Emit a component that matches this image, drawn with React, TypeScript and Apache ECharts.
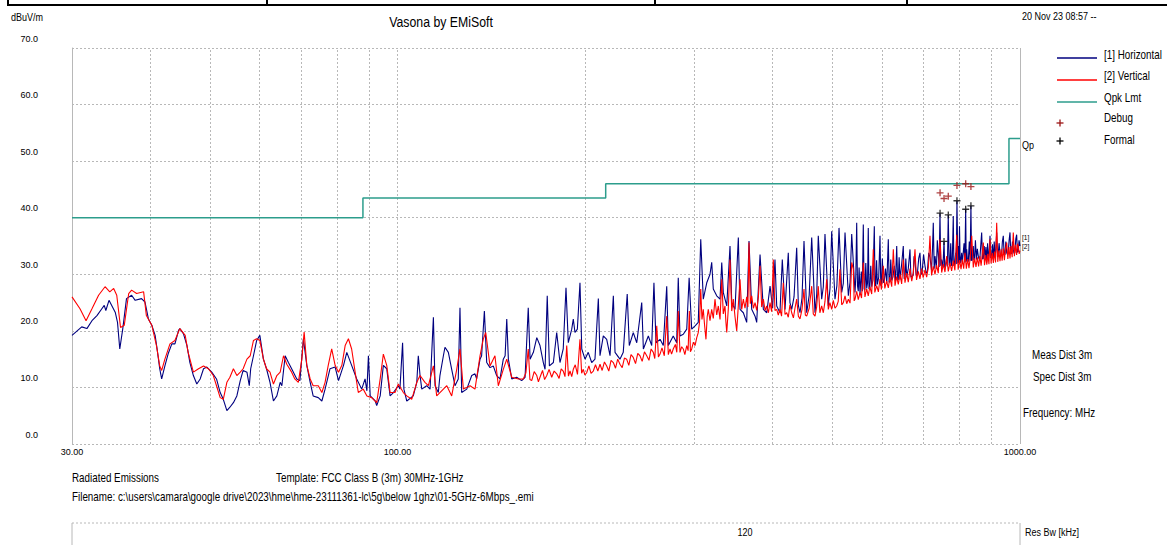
import React, { useEffect, useRef } from "react";
import * as echarts from "echarts";

// [frequency MHz, level dBuV/m]
const horizontal: [number, number][] = [
  [30.0, 19.2], [31.1, 20.7], [31.7, 20.4], [32.3, 21.8], [32.9, 22.7], [33.5, 23.9], [33.8, 24.5], [34.0, 23.6],
  [34.4, 25.4], [35.2, 23.3], [35.5, 21.5], [35.8, 16.8], [36.2, 20.4], [36.7, 25.7], [37.4, 26.3], [37.9, 25.4],
  [38.8, 25.7], [39.3, 25.1], [39.8, 22.1], [40.3, 21.0], [40.8, 19.2], [41.1, 16.8], [41.5, 13.3], [41.8, 11.5],
  [42.3, 13.8], [42.8, 15.9], [43.4, 17.7], [43.9, 17.7], [44.5, 20.1], [44.7, 20.4], [45.3, 19.5], [45.9, 17.4],
  [46.4, 14.4], [47.0, 12.1], [47.6, 10.6], [48.2, 11.5], [48.8, 13.3], [49.4, 13.6], [50.3, 12.7], [51.2, 11.5],
  [51.9, 9.1], [52.5, 7.9], [53.2, 5.9], [53.8, 6.5], [54.5, 7.3], [55.2, 8.5], [55.9, 11.2], [56.5, 13.0],
  [57.3, 12.7], [57.8, 10.3], [58.1, 13.3], [58.7, 15.6], [59.4, 18.3], [60.1, 19.2], [60.9, 15.0], [61.6, 13.3],
  [62.4, 10.9], [63.2, 7.6], [64.0, 8.5], [64.8, 10.9], [65.2, 10.3], [66.0, 15.6], [66.8, 14.4], [67.6, 13.3],
  [68.9, 11.5], [69.7, 11.2], [70.6, 18.6], [71.5, 13.9], [72.4, 10.9], [73.2, 8.5], [74.6, 8.2], [75.6, 7.6],
  [76.5, 9.7], [77.9, 13.3], [79.4, 13.6], [80.4, 11.2], [81.9, 13.9], [82.9, 16.2], [84.4, 13.9], [86.0, 11.5],
  [87.6, 9.7], [88.7, 11.5], [89.3, 9.4], [89.8, 15.6], [90.4, 8.5], [92.1, 7.6], [92.6, 6.8], [93.8, 8.5],
  [94.9, 13.9], [96.1, 13.3], [97.3, 8.5], [98.5, 9.1], [100.3, 10.3], [100.9, 9.7], [101.9, 17.9], [102.4, 9.7],
  [103.5, 7.6], [106.0, 8.5], [107.4, 10.9], [108.0, 15.6], [108.7, 12.1], [109.4, 9.7], [111.4, 10.3], [112.8, 9.7],
  [114.2, 22.4], [114.9, 10.3], [116.3, 9.1], [117.0, 12.1], [118.5, 15.6], [119.2, 17.1], [120.7, 16.2], [122.2, 13.2],
  [123.7, 10.3], [125.2, 11.5], [126.0, 24.1], [126.8, 9.1], [129.2, 9.7], [131.6, 12.1], [133.2, 12.4], [134.0, 11.5],
  [135.7, 15.0], [136.5, 15.6], [137.9, 23.5], [139.1, 14.4], [140.8, 13.5], [142.5, 13.8], [144.3, 12.1], [146.1, 11.5],
  [147.9, 15.0], [148.9, 15.6], [149.8, 22.1], [150.7, 15.0], [152.6, 11.5], [155.4, 11.8], [158.3, 11.2], [160.3, 11.8],
  [162.2, 24.1], [163.3, 15.0], [165.3, 16.2], [167.4, 18.8], [169.4, 17.4], [171.5, 14.4], [172.6, 13.2], [174.0, 26.2],
  [175.4, 13.8], [178.0, 14.4], [180.2, 19.7], [182.4, 14.4], [184.6, 16.8], [186.5, 27.6], [188.1, 17.9], [190.5, 20.3],
  [191.6, 22.1], [192.8, 19.7], [194.5, 20.3], [196.4, 28.5], [197.7, 16.8], [200.1, 15.0], [202.5, 16.2], [205.1, 14.4],
  [207.6, 15.0], [210.2, 25.7], [211.5, 15.6], [214.1, 19.1], [216.8, 18.5], [219.5, 15.6], [222.2, 26.2], [223.6, 16.2],
  [227.7, 15.0], [230.5, 16.2], [233.9, 26.5], [235.7, 17.4], [239.2, 19.7], [242.3, 17.9], [246.8, 25.0], [248.3, 16.8],
  [252.9, 19.1], [256.1, 17.4], [258.2, 28.5], [260.2, 17.9], [264.1, 18.5], [267.3, 17.4], [270.7, 27.9], [272.3, 17.4],
  [277.3, 19.1], [280.9, 17.9], [282.5, 29.4], [284.3, 19.1], [287.8, 19.4], [291.5, 20.3], [294.1, 29.4], [296.9, 20.3],
  [300.6, 20.9], [304.2, 21.5], [307.0, 36.2], [309.9, 25.6], [313.9, 28.5], [317.7, 30.0], [319.7, 32.1], [321.6, 27.4],
  [325.7, 26.2], [329.7, 25.6], [331.8, 32.1], [333.7, 26.8], [338.0, 24.4], [342.1, 35.0], [344.3, 25.0], [348.5, 23.8],
  [352.8, 36.5], [355.0, 23.8], [359.4, 23.2], [363.9, 21.5], [367.0, 35.9], [370.7, 23.8], [375.3, 22.6], [377.6, 21.5],
  [382.3, 33.5], [387.0, 23.8], [391.9, 23.2], [396.7, 27.9], [400.5, 24.0], [404.0, 32.6], [406.6, 24.4], [411.5, 23.2],
  [415.1, 32.6], [419.3, 23.8], [424.4, 33.8], [427.0, 25.0], [429.8, 23.8], [433.5, 26.0], [437.8, 34.7], [440.5, 24.5],
  [443.2, 23.2], [446.5, 25.8], [449.8, 35.9], [454.3, 23.2], [458.5, 26.3], [462.8, 36.5], [468.5, 23.2], [471.5, 26.5],
  [474.2, 36.8], [480.2, 25.6], [483.1, 27.8], [486.1, 37.1], [492.1, 24.4], [495.2, 27.5], [498.3, 37.6], [504.4, 25.6],
  [508.0, 28.0], [512.0, 38.2], [517.1, 26.8], [520.2, 28.4], [523.5, 37.4], [530.0, 26.2], [533.3, 28.6], [536.6, 37.1],
  [543.2, 26.8], [544.8, 29.5], [546.6, 39.1], [548.2, 28.0], [549.8, 27.0], [551.5, 31.2], [553.4, 26.5], [556.0, 30.5],
  [558.0, 27.0], [560.1, 38.8], [561.8, 27.4], [563.5, 27.2], [565.3, 32.0], [567.2, 27.5], [569.0, 28.5], [570.5, 38.2],
  [572.0, 27.4], [573.8, 27.6], [575.8, 31.5], [577.8, 27.8], [580.5, 29.0], [583.4, 38.5], [585.0, 27.9], [586.5, 28.0],
  [588.3, 32.5], [590.0, 28.2], [593.0, 29.5], [595.8, 36.8], [597.5, 28.0], [599.0, 28.3], [601.0, 32.8], [603.1, 28.5],
  [605.5, 29.0], [608.0, 31.0], [611.0, 28.4], [614.4, 36.2], [616.2, 28.6], [618.0, 28.7], [620.0, 32.6], [622.2, 28.9],
  [625.0, 29.5], [628.0, 31.5], [631.0, 28.8], [633.8, 35.0], [635.8, 29.0], [637.5, 29.0], [639.5, 33.0], [641.6, 29.1],
  [645.5, 31.8], [649.4, 35.0], [651.5, 29.2], [653.5, 29.3], [655.5, 32.8], [657.6, 29.5], [661.5, 31.0], [665.7, 34.4],
  [668.0, 29.5], [670.0, 29.6], [673.5, 29.8], [675.8, 33.2], [678.1, 32.5], [681.0, 29.8], [684.0, 30.0], [687.5, 32.8],
  [690.7, 33.8], [693.5, 30.0], [696.0, 30.2], [700.0, 33.5], [703.6, 31.5], [707.0, 30.2], [710.0, 30.5], [713.5, 33.8],
  [716.8, 33.0], [721.0, 30.7], [723.5, 34.5], [725.6, 39.1], [728.0, 31.0], [730.2, 33.2], [734.0, 31.0], [736.5, 36.0],
  [739.1, 33.5], [741.5, 31.3], [743.8, 40.8], [746.0, 31.5], [748.5, 32.6], [752.0, 31.2], [755.0, 35.8], [757.0, 31.2],
  [759.0, 31.3], [762.5, 33.0], [764.5, 31.4], [766.9, 40.5], [769.5, 31.6], [771.8, 32.0], [774.0, 35.5], [776.0, 31.5],
  [778.5, 32.5], [781.3, 40.3], [783.0, 31.5], [785.0, 31.6], [788.3, 33.8], [790.0, 31.8], [792.0, 43.0], [794.5, 31.9],
  [796.5, 35.0], [798.0, 32.0], [799.5, 38.5], [801.5, 32.0], [803.0, 32.2], [806.0, 33.8], [808.0, 32.0], [810.0, 32.0],
  [813.0, 35.5], [815.5, 32.1], [818.0, 41.5], [819.5, 32.2], [821.0, 34.4], [823.5, 32.2], [826.0, 32.3], [829.0, 35.8],
  [831.5, 32.4], [834.0, 42.1], [836.0, 32.4], [838.0, 32.5], [841.3, 35.0], [843.0, 32.5], [845.0, 32.6], [848.0, 36.0],
  [851.0, 32.6], [854.0, 34.5], [857.1, 33.2], [859.5, 32.7], [862.0, 32.7], [865.0, 35.2], [867.8, 37.4], [870.5, 32.7],
  [873.1, 32.8], [876.0, 35.0], [879.0, 32.8], [881.5, 34.8], [884.0, 32.1], [887.0, 35.5], [890.0, 32.9], [892.5, 34.0],
  [895.0, 36.8], [897.5, 32.9], [900.0, 33.0], [903.0, 35.3], [906.1, 32.6], [909.0, 35.8], [912.0, 33.0], [914.5, 34.5],
  [917.4, 37.4], [920.0, 33.1], [922.0, 33.2], [925.5, 35.5], [928.7, 33.8], [931.0, 33.2], [934.0, 33.4], [937.0, 35.8],
  [940.1, 36.8], [943.0, 33.4], [946.0, 33.5], [949.0, 35.8], [952.0, 33.8], [954.5, 33.5], [957.0, 33.6], [960.5, 36.0],
  [963.7, 37.4], [966.5, 33.6], [969.0, 33.7], [972.5, 35.8], [975.5, 34.4], [978.0, 33.7], [981.0, 33.8], [984.5, 36.2],
  [987.7, 37.0], [990.5, 33.9], [993.7, 34.0], [996.5, 36.0], [1000.0, 35.0],
];

const vertical: [number, number][] = [
  [30.0, 26.0], [30.9, 23.9], [31.6, 21.8], [32.3, 23.9], [33.1, 26.3], [33.9, 27.8], [34.5, 26.9], [35.0, 27.5],
  [35.4, 26.3], [35.9, 20.6], [36.4, 21.0], [37.0, 26.6], [37.4, 27.2], [38.1, 26.6], [39.1, 26.9], [39.5, 22.7],
  [40.3, 21.0], [41.0, 17.4], [41.5, 13.8], [41.8, 13.0], [42.3, 15.0], [43.1, 17.7], [43.9, 18.3], [44.7, 20.4],
  [45.6, 19.2], [46.1, 16.2], [47.0, 12.7], [47.9, 13.3], [48.8, 13.8], [49.7, 13.3], [50.6, 12.1], [51.2, 10.3],
  [51.9, 8.2], [52.5, 7.9], [53.2, 10.9], [53.8, 11.8], [54.5, 13.3], [55.2, 12.1], [55.9, 12.7], [56.5, 13.3],
  [57.3, 15.0], [58.0, 15.6], [58.7, 18.3], [59.4, 18.6], [60.1, 18.3], [60.9, 15.0], [61.6, 13.3], [62.4, 12.7],
  [63.2, 10.6], [64.0, 12.1], [64.8, 12.7], [65.6, 15.6], [66.4, 14.1], [67.6, 12.7], [68.4, 11.5], [69.3, 10.9],
  [70.2, 15.0], [70.8, 19.8], [71.5, 13.9], [72.4, 11.5], [73.2, 10.3], [74.6, 10.3], [75.6, 9.1], [76.5, 10.9],
  [77.4, 13.9], [78.4, 16.8], [79.4, 13.9], [80.4, 12.7], [81.4, 13.9], [82.4, 17.4], [83.4, 18.6], [84.4, 16.8],
  [85.5, 12.7], [86.5, 9.1], [88.1, 9.7], [89.3, 8.5], [90.9, 8.2], [92.6, 7.3], [93.8, 11.5], [94.9, 15.9],
  [96.1, 13.9], [97.3, 9.1], [99.1, 9.1], [100.3, 10.6], [102.2, 9.1], [103.5, 8.5], [105.4, 7.9], [107.4, 10.9],
  [108.7, 12.1], [110.7, 10.9], [112.1, 10.3], [114.2, 13.8], [115.6, 8.5], [118.5, 9.7], [120.0, 10.3], [122.2, 8.5],
  [124.5, 13.2], [126.0, 16.8], [127.6, 9.7], [130.8, 10.3], [133.2, 9.7], [135.7, 15.6], [137.3, 18.5], [138.6, 19.7],
  [140.8, 13.8], [143.4, 15.6], [145.2, 10.3], [147.9, 13.2], [149.8, 15.0], [152.6, 11.8], [156.4, 11.5], [159.3, 11.5],
  [160.8, 12.6], [162.2, 16.8], [163.2, 11.4], [164.3, 11.2], [165.8, 12.8], [167.4, 12.1], [168.4, 11.0], [169.4, 11.8],
  [171.0, 13.0], [172.3, 11.4], [173.7, 12.1], [175.2, 13.2], [176.9, 11.8], [178.5, 12.9], [180.2, 12.4], [181.8, 11.6],
  [183.2, 13.3], [184.6, 12.9], [185.8, 11.9], [187.0, 17.4], [188.2, 12.0], [189.3, 12.9], [190.5, 11.9], [191.6, 13.2],
  [193.0, 14.0], [194.6, 12.3], [196.4, 18.5], [197.6, 12.5], [198.8, 13.2], [200.0, 12.2], [201.3, 12.6], [203.0, 13.8],
  [204.6, 12.5], [206.3, 12.9], [208.0, 14.0], [209.8, 12.9], [211.5, 14.1], [213.2, 13.0], [215.0, 14.5], [216.8, 13.8],
  [218.5, 12.9], [220.3, 14.8], [222.2, 14.4], [224.0, 13.4], [225.8, 15.0], [227.7, 14.1], [229.6, 13.5], [231.5, 15.2],
  [233.4, 15.0], [235.3, 13.9], [237.2, 15.8], [239.2, 15.3], [241.2, 14.2], [243.2, 16.0], [245.2, 15.6], [247.2, 14.6],
  [249.3, 16.3], [251.4, 15.6], [253.5, 14.8], [255.5, 16.8], [257.6, 16.2], [259.0, 15.1], [260.9, 20.9], [262.5, 15.4],
  [264.1, 15.9], [266.0, 17.0], [268.3, 15.6], [270.7, 22.6], [272.3, 15.8], [274.0, 16.8], [275.6, 15.9], [277.3, 16.8],
  [279.5, 17.6], [281.0, 16.2], [282.5, 23.5], [284.3, 16.2], [286.1, 17.2], [287.8, 16.8], [289.5, 15.8], [291.5, 17.4],
  [293.0, 16.5], [294.3, 23.5], [295.5, 16.3], [296.9, 16.8], [298.8, 18.0], [300.6, 17.4], [302.5, 18.8], [304.2, 19.7],
  [305.6, 21.5], [307.0, 27.4], [308.4, 22.0], [309.9, 23.8], [311.4, 21.0], [313.0, 18.5], [314.4, 22.5], [315.7, 23.8],
  [317.7, 21.8], [319.7, 23.8], [321.6, 22.2], [323.6, 25.6], [325.7, 22.8], [327.6, 24.4], [329.7, 22.0], [331.8, 29.1],
  [333.7, 23.0], [335.8, 24.4], [337.0, 21.5], [338.0, 19.7], [340.0, 24.0], [342.1, 32.6], [344.3, 23.5], [346.3, 25.6],
  [348.5, 22.5], [350.7, 20.0], [352.8, 24.5], [355.0, 29.1], [357.2, 23.8], [359.4, 25.6], [361.6, 24.0], [363.9, 26.0],
  [365.5, 24.2], [367.0, 35.6], [368.8, 24.8], [370.7, 26.2], [373.0, 24.0], [375.3, 25.0], [377.6, 23.6], [380.0, 26.0],
  [382.3, 31.5], [384.6, 24.2], [387.0, 25.6], [389.5, 23.6], [391.9, 24.4], [394.3, 23.2], [396.7, 25.0], [399.0, 23.4],
  [401.5, 32.6], [404.0, 23.6], [406.6, 23.8], [409.0, 22.8], [411.5, 23.8], [414.0, 22.6], [416.6, 28.5], [419.3, 22.9],
  [421.9, 23.2], [424.4, 22.4], [427.0, 24.6], [429.8, 23.2], [432.5, 22.3], [435.0, 24.0], [437.8, 25.6], [440.5, 22.6],
  [443.2, 22.1], [446.5, 23.8], [449.8, 27.4], [452.0, 22.8], [454.3, 22.6], [458.5, 24.0], [462.8, 27.9], [465.5, 23.0],
  [468.5, 22.6], [471.3, 24.2], [474.2, 27.9], [477.0, 23.2], [480.2, 24.4], [483.1, 23.2], [486.1, 25.2], [489.2, 29.1],
  [492.1, 23.8], [495.0, 25.0], [498.3, 23.8], [501.3, 25.4], [504.4, 24.0], [507.6, 24.4], [510.5, 25.2], [513.8, 30.9],
  [517.1, 24.6], [520.2, 25.0], [523.5, 26.2], [526.8, 24.8], [530.0, 25.6], [533.3, 24.9], [536.6, 32.1], [539.8, 30.9],
  [541.5, 25.3], [543.2, 25.6], [546.6, 27.0], [549.8, 25.5], [553.4, 26.8], [556.5, 25.8], [560.1, 32.1], [563.5, 26.0],
  [567.2, 27.4], [570.5, 26.2], [573.8, 27.8], [577.8, 26.5], [581.2, 34.4], [584.5, 26.8], [588.6, 28.0], [592.2, 26.9],
  [595.8, 29.2], [599.0, 27.3], [603.1, 31.5], [606.5, 27.5], [610.5, 28.8], [614.4, 27.6], [618.0, 29.5], [622.2, 27.8],
  [625.9, 34.4], [629.8, 28.0], [633.8, 29.6], [637.5, 28.2], [641.6, 30.0], [645.5, 28.3], [649.4, 32.6], [653.5, 28.5],
  [657.6, 30.2], [661.5, 28.6], [665.7, 31.0], [670.0, 28.8], [674.0, 30.3], [678.1, 34.4], [682.0, 29.0], [686.5, 30.5],
  [690.7, 29.2], [695.0, 31.0], [699.0, 29.4], [703.6, 30.8], [708.0, 29.5], [712.5, 31.2], [716.8, 36.8], [721.0, 29.8],
  [725.6, 31.4], [730.2, 30.0], [734.5, 31.6], [739.1, 30.2], [743.8, 36.2], [748.5, 30.3], [753.0, 31.8], [757.7, 30.4],
  [762.5, 33.2], [767.0, 30.5], [771.8, 32.0], [776.5, 30.6], [781.3, 32.4], [786.0, 30.7], [791.3, 37.0], [795.5, 30.8],
  [800.0, 32.5], [804.0, 30.9], [808.0, 32.6], [812.0, 31.0], [815.9, 33.8], [820.0, 31.0], [824.0, 32.7], [828.0, 31.1],
  [832.0, 33.0], [836.5, 36.8], [841.3, 31.2], [845.5, 32.8], [849.8, 31.3], [854.0, 33.0], [858.0, 31.4], [862.0, 33.2],
  [866.0, 31.5], [869.5, 33.4], [873.1, 35.6], [877.0, 31.6], [881.0, 33.4], [884.5, 31.7], [888.0, 33.6], [891.5, 31.8],
  [895.0, 36.2], [898.5, 31.9], [902.5, 33.8], [906.1, 32.0], [910.0, 34.0], [913.5, 32.1], [917.4, 39.1], [921.0, 32.2],
  [925.0, 34.2], [928.7, 32.3], [932.5, 34.4], [936.0, 32.4], [940.1, 34.6], [944.0, 32.5], [948.0, 34.6], [952.0, 35.6],
  [956.0, 32.7], [960.0, 34.8], [963.7, 32.8], [967.5, 35.0], [971.5, 33.0], [975.5, 37.4], [979.5, 33.2], [983.5, 35.2],
  [987.7, 33.4], [991.0, 35.4], [993.7, 35.0], [997.0, 33.6], [1000.0, 34.2],
];

const qpkLimit: [number, number][] = [
  [30, 40], [88, 40], [88, 43.5], [216, 43.5], [216, 46], [960, 46], [960, 54], [1000, 54],
];
const debugPeaks: [number, number][] = [[744, 44.4], [755, 43.4], [767, 43.8], [792, 45.7], [818, 46.0], [834, 45.5]];
const formalPeaks: [number, number][] = [[744, 40.8], [755, 35.8], [767, 40.5], [792, 43.0], [818, 41.5], [834, 42.1]];

const gridFreqs = [40, 50, 60, 70, 80, 90, 100, 200, 300, 400, 500, 600, 700, 800, 900];
const freqLabels = [30, 100, 1000];
const legendNames = ["[1] Horizontal", "[2] Vertical", "Qpk Lmt", "Debug", "Formal"];

const FONT = "'Liberation Sans', Arial, sans-serif";
const NARROW = 0.82;
const BLUE = "#00007f";
const RED = "#ff0000";
const TEAL = "#2c9d8c";
const DEBUG = "#9b1414";
const GRID = "#b8b8b8";
const PLUS = "path://M5 0V10M0 5H10";

function txt(x: number, y: number, text: string, size = 12, align = "left") {
  return {
    type: "text",
    x,
    y,
    scaleX: NARROW,
    silent: true,
    style: {
      text,
      fill: "#000",
      font: `${size}px ${FONT}`,
      align,
      textAlign: align,
      verticalAlign: "middle",
      textVerticalAlign: "middle",
    },
  };
}

function plus(cx: number, cy: number, color: string) {
  return [
    { type: "line", silent: true, shape: { x1: cx - 3.5, y1: cy, x2: cx + 3.5, y2: cy }, style: { stroke: color, lineWidth: 1.3 } },
    { type: "line", silent: true, shape: { x1: cx, y1: cy - 3.5, x2: cx, y2: cy + 3.5 }, style: { stroke: color, lineWidth: 1.3 } },
  ];
}

function hline(x1: number, x2: number, y: number, color: string, w = 1, dash?: number[]) {
  return { type: "line", silent: true, shape: { x1, y1: y, x2, y2: y }, style: { stroke: color, lineWidth: w, lineDash: dash } };
}
function vline(x: number, y1: number, y2: number, color: string, w = 1) {
  return { type: "line", silent: true, shape: { x1: x, y1, x2: x, y2 }, style: { stroke: color, lineWidth: w } };
}

export default function App() {
  const ref = useRef<HTMLDivElement>(null);
  useEffect(() => {
    if (!ref.current) return;
    const chart = echarts.init(ref.current, null, { renderer: "svg" });
    const legendY = [55, 76, 98, 118, 140];
    const graphic: any[] = [
      hline(8, 1167, 5, "#000", 2),
      vline(8, 0, 6, "#000", 2),
      vline(267, 0, 6, "#000", 2),
      vline(655, 0, 6, "#000", 2),
      vline(907, 0, 6, "#000", 2),
      txt(11, 17, "dBuV/m", 11),
      txt(441, 22, "Vasona by EMiSoft", 15, "center"),
      txt(1022, 16, "20 Nov 23 08:57 --", 11),
      hline(1057, 1097, 58, BLUE, 1.5),
      hline(1057, 1097, 80, RED, 1.5),
      hline(1057, 1097, 102, TEAL, 1.5),
      ...plus(1060, 123, DEBUG),
      ...plus(1060, 141, "#000"),
      ...legendNames.map((n, i) => txt(1104, legendY[i], n, 12)),
      txt(1022, 145, "Qp", 11),
      txt(1022, 237, "[1]", 8),
      txt(1022, 246, "[2]", 8),
      txt(1032, 355, "Meas Dist 3m", 12),
      txt(1033, 377, "Spec Dist 3m", 12),
      txt(1023, 413, "Frequency: MHz", 12),
      txt(72, 478, "Radiated Emissions", 12),
      txt(276, 478, "Template: FCC Class B (3m) 30MHz-1GHz", 12),
      txt(72, 497, "Filename: c:\\users\\camara\\google drive\\2023\\hme\\hme-23111361-lc\\5g\\below 1ghz\\01-5GHz-6Mbps_.emi", 12),
      hline(72, 1020, 523, GRID, 1, [2, 2]),
      vline(72, 523, 545, GRID, 1),
      vline(1020, 523, 545, GRID, 1),
      txt(745, 532, "120", 11, "center"),
      txt(1025, 532, "Res Bw [kHz]", 11),
    ];

    chart.setOption({
      animation: false,
      backgroundColor: "#fff",
      textStyle: { fontFamily: FONT },
      grid: { left: 72, top: 48, width: 948, height: 396 },
      xAxis: {
        type: "log",
        logBase: 10,
        min: 30,
        max: 1000,
        axisLine: { show: false },
        axisTick: { show: false },
        splitLine: { show: false },
        minorTick: { show: false },
        axisLabel: {
          customValues: freqLabels,
          formatter: (v: number) => Number(v).toFixed(2),
          fontSize: 9,
          margin: 3,
          color: "#000",
          fontFamily: FONT,
        },
      },
      yAxis: {
        type: "value",
        min: 0,
        max: 70,
        interval: 10,
        axisLine: { show: true, lineStyle: { color: GRID } },
        axisTick: { show: false },
        splitLine: { show: true, lineStyle: { color: GRID, type: [2, 2], width: 1 } },
        axisLabel: {
          formatter: (v: number) => v.toFixed(1),
          margin: 34,
          verticalAlign: "bottom",
          padding: [0, 0, 5, 0],
          fontSize: 9,
          color: "#000",
          fontFamily: FONT,
        },
      },
      graphic,
      series: [
        {
          name: "Qpk Lmt",
          type: "line",
          data: qpkLimit,
          symbol: "none",
          z: 3,
          lineStyle: { color: TEAL, width: 1.5 },
          itemStyle: { color: TEAL },
          markLine: {
            silent: true,
            symbol: ["none", "none"],
            z: 1,
            label: { show: false },
            lineStyle: { color: GRID, type: [2, 2], width: 1 },
            data: [
              ...gridFreqs.map((f) => ({ xAxis: f })),
              { xAxis: 1000, lineStyle: { color: GRID, type: "solid", width: 1 } },
            ],
          },
        },
        {
          name: "[1] Horizontal",
          type: "line",
          data: horizontal,
          symbol: "none",
          z: 4,
          lineStyle: { color: BLUE, width: 1.1 },
          itemStyle: { color: BLUE },
        },
        {
          name: "[2] Vertical",
          type: "line",
          data: vertical,
          symbol: "none",
          z: 5,
          lineStyle: { color: RED, width: 1.1 },
          itemStyle: { color: RED },
        },
        {
          name: "Debug",
          type: "scatter",
          data: debugPeaks,
          symbol: PLUS,
          symbolSize: 7,
          z: 6,
          itemStyle: { color: "transparent", borderColor: DEBUG, borderWidth: 1.3 },
        },
        {
          name: "Formal",
          type: "scatter",
          data: formalPeaks,
          symbol: PLUS,
          symbolSize: 7,
          z: 6,
          itemStyle: { color: "transparent", borderColor: "#000", borderWidth: 1.3 },
        },
      ],
    });
    return () => chart.dispose();
  }, []);
  return <div ref={ref} style={{ position: "fixed", left: 0, top: 0, width: 1167, height: 545 }} />;
}
